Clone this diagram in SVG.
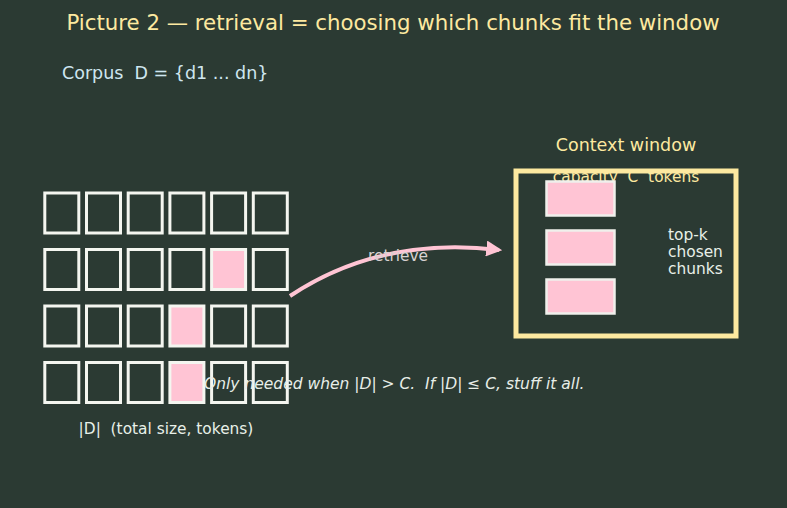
<svg xmlns="http://www.w3.org/2000/svg" width="787" height="508" viewBox="0 0 787 508">
<defs>
<style>
text{font-family:"DejaVu Sans",sans-serif;white-space:pre}
.cell{fill:none;stroke:#f4f6f0;stroke-width:3}
.hit{fill:#ffc4d4;stroke:#f4f6f0;stroke-width:3}
.chunk{fill:#ffc4d4;stroke:#f0f0ec;stroke-width:2.5}
</style>
<marker id="ah" viewBox="0 0 10 10" refX="8" refY="5" markerWidth="4" markerHeight="4" orient="auto" markerUnits="strokeWidth">
<path d="M0,0 L10,5 L0,10 z" fill="#ffc4d4"/>
</marker>
</defs>
<rect width="787" height="508" fill="#2b3a33"/>
<text x="393" y="30" text-anchor="middle" font-size="21.3" fill="#fde9a0">Picture 2 — retrieval = choosing which chunks fit the window</text>
<text x="62" y="79" font-size="17.5" fill="#cfe6f0" xml:space="preserve">Corpus  D = {d1 ... dn}</text>
<g id="corpus">
<rect class="cell" x="44.8" y="193" width="34" height="40"/>
<rect class="cell" x="86.5" y="193" width="34" height="40"/>
<rect class="cell" x="128.2" y="193" width="34" height="40"/>
<rect class="cell" x="169.9" y="193" width="34" height="40"/>
<rect class="cell" x="211.6" y="193" width="34" height="40"/>
<rect class="cell" x="253.3" y="193" width="34" height="40"/>
<rect class="cell" x="44.8" y="249.5" width="34" height="40"/>
<rect class="cell" x="86.5" y="249.5" width="34" height="40"/>
<rect class="cell" x="128.2" y="249.5" width="34" height="40"/>
<rect class="cell" x="169.9" y="249.5" width="34" height="40"/>
<rect class="hit" x="211.6" y="249.5" width="34" height="40"/>
<rect class="cell" x="253.3" y="249.5" width="34" height="40"/>
<rect class="cell" x="44.8" y="306" width="34" height="40"/>
<rect class="cell" x="86.5" y="306" width="34" height="40"/>
<rect class="cell" x="128.2" y="306" width="34" height="40"/>
<rect class="hit" x="169.9" y="306" width="34" height="40"/>
<rect class="cell" x="211.6" y="306" width="34" height="40"/>
<rect class="cell" x="253.3" y="306" width="34" height="40"/>
<rect class="cell" x="44.8" y="362.5" width="34" height="40"/>
<rect class="cell" x="86.5" y="362.5" width="34" height="40"/>
<rect class="cell" x="128.2" y="362.5" width="34" height="40"/>
<rect class="hit" x="169.9" y="362.5" width="34" height="40"/>
<rect class="cell" x="211.6" y="362.5" width="34" height="40"/>
<rect class="cell" x="253.3" y="362.5" width="34" height="40"/>
</g>
<text x="166" y="434" text-anchor="middle" font-size="15.4" fill="#e8f0e8" xml:space="preserve">|D|  (total size, tokens)</text>
<g id="window">
<text x="626" y="151" text-anchor="middle" font-size="17.5" fill="#fde9a0">Context window</text>
<rect x="516" y="171" width="220" height="165" fill="none" stroke="#fde9a0" stroke-width="5"/>
<text x="626" y="182" text-anchor="middle" font-size="15.4" fill="#fde9a0" xml:space="preserve">capacity  C  tokens</text>
<rect class="chunk" x="546.5" y="181.5" width="68" height="34"/>
<rect class="chunk" x="546.5" y="230.5" width="68" height="34"/>
<rect class="chunk" x="546.5" y="279.5" width="68" height="34"/>
<text font-size="15.4" fill="#e8f0e8"><tspan x="668" y="240">top-k</tspan><tspan x="668" y="257">chosen</tspan><tspan x="668" y="274">chunks</tspan></text>
</g>
<g id="connectors">
<path d="M290,296 Q380,236 499,250" fill="none" stroke="#ffc4d4" stroke-width="4" marker-end="url(#ah)"/>
</g>
<text x="398" y="261" text-anchor="middle" font-size="15.4" fill="#d8d2d2">retrieve</text>
<text x="204" y="389" font-size="15.5" font-style="italic" fill="#e8eee8" xml:space="preserve">Only needed when |D| &gt; C.  If |D| ≤ C, stuff it all.</text>
</svg>
